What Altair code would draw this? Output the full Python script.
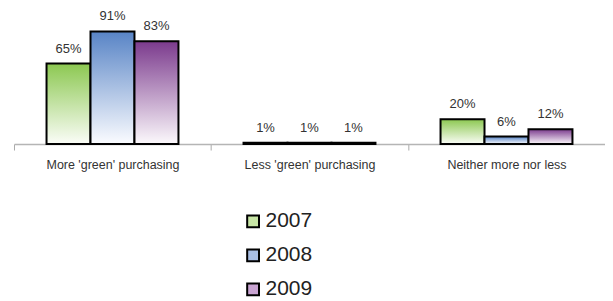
import altair as alt
import pandas as pd

categories = ["More 'green' purchasing", "Less 'green' purchasing", "Neither more nor less"]
years = ["2007", "2008", "2009"]
v2007 = [65, 1, 20]
v2008 = [91, 1, 6]
v2009 = [83, 1, 12]

rows = []
for yr, vals in zip(years, [v2007, v2008, v2009]):
    for c, v in zip(categories, vals):
        rows.append({"category": c, "year": yr, "value": v, "label": f"{v}%"})
df = pd.DataFrame(rows)

top_colors = {"2007": "#8cc851", "2008": "#5884c6", "2009": "#7b3a8d"}
bottom_colors = {"2007": "#fbfdf8", "2008": "#fbfcff", "2009": "#fcf9fc"}
legend_colors = ["#c8e6a6", "#a9bfe4", "#c9a4d2"]

x_enc = alt.X("category:N", sort=categories,
              scale=alt.Scale(paddingInner=0, paddingOuter=0),
              axis=alt.Axis(title=None, labelAngle=0, tickBand="extent", tickSize=6,
                            tickColor="#aaaaaa", domainColor="#b5b5b5", domainWidth=1.5,
                            labelColor="#333333", labelFont="Liberation Sans", labelFontSize=12.5,
                            labelPadding=9, grid=False))
xo_enc = alt.XOffset("year:N", sort=years, scale=alt.Scale(paddingInner=0, paddingOuter=0.74))
y_enc = alt.Y("value:Q", scale=alt.Scale(domain=[0, 100]), axis=None)

base = alt.Chart(df)
layers = []
for yr in years:
    grad = alt.Gradient(gradient="linear",
                        stops=[alt.GradientStop(color=top_colors[yr], offset=0),
                               alt.GradientStop(color=bottom_colors[yr], offset=1)],
                        x1=1, x2=1, y1=0, y2=1)
    layers.append(
        base.transform_filter(alt.datum.year == yr)
        .mark_bar(color=grad, stroke="black", strokeWidth=2, opacity=1)
        .encode(x=x_enc, xOffset=xo_enc, y=y_enc)
    )

text = base.mark_text(dy=-15, fontSize=13, font="Liberation Sans", color="#333333").encode(
    x=x_enc, xOffset=xo_enc, y=y_enc, text="label:N")

legend_layer = base.mark_square(opacity=0).encode(
    x=x_enc, xOffset=xo_enc, y=y_enc,
    fill=alt.Fill("year:N", sort=years,
                  scale=alt.Scale(domain=years, range=legend_colors),
                  legend=alt.Legend(title=None, orient="none", legendX=229, legendY=191,
                                    direction="vertical", symbolType="square", symbolSize=140,
                                    symbolStrokeColor="black", symbolStrokeWidth=2,
                                    symbolOpacity=1, labelFontSize=21, labelFont="Liberation Sans",
                                    labelColor="#222222", rowPadding=12, labelOffset=2)))

chart = alt.layer(*layers, text, legend_layer).properties(
    width=592, height=124,
    autosize=alt.AutoSizeParams(type="none"),
    padding={"left": 6, "top": 12, "right": 0, "bottom": 180},
).configure(background="white", view=alt.ViewConfig(stroke=None))

chart.save("out.html", embed_options={"renderer": "svg", "actions": False})
